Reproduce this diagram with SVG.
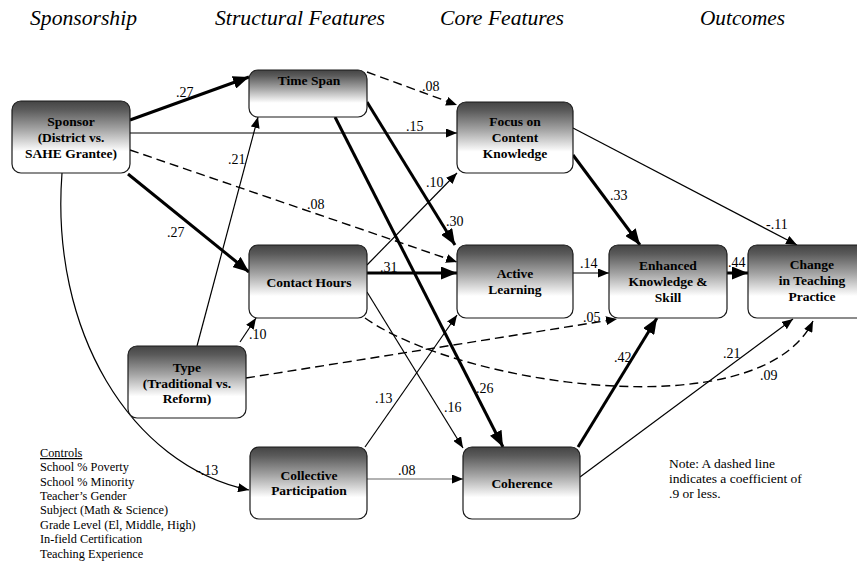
<svg xmlns="http://www.w3.org/2000/svg" width="857" height="564" viewBox="0 0 857 564">
<style>
.hdr{font-family:"Liberation Serif","Times New Roman",serif;font-style:italic;font-size:20.5px;fill:#000}
.box{fill:url(#g);stroke:#1a1a1a;stroke-width:1.2}
.nt{font-family:"Liberation Serif","Times New Roman",serif;font-weight:bold;font-size:13.5px;fill:#000;text-anchor:middle}
.lab{font-family:"Liberation Serif","Times New Roman",serif;font-size:14px;fill:#000}
.thin{fill:none;stroke:#000;stroke-width:1.2;marker-end:url(#aThin)}
.thick{fill:none;stroke:#000;stroke-width:3;marker-end:url(#aThick)}
.dash{fill:none;stroke:#000;stroke-width:1.4;stroke-dasharray:9 5;marker-end:url(#aThin)}
.ctl{font-family:"Liberation Serif","Times New Roman",serif;font-size:12.3px;fill:#000}
.note{font-family:"Liberation Serif","Times New Roman",serif;font-size:13.5px;fill:#000}
</style>
<defs>
<linearGradient id="g" x1="0" y1="0" x2="0" y2="1">
<stop offset="0" stop-color="#444444"/>
<stop offset="0.12" stop-color="#5a5a5a"/>
<stop offset="0.4" stop-color="#a6a6a6"/>
<stop offset="0.7" stop-color="#ffffff"/>
<stop offset="1" stop-color="#ffffff"/>
</linearGradient>
<marker id="aThin" markerUnits="userSpaceOnUse" markerWidth="11" markerHeight="9" refX="11" refY="4.5" orient="auto">
<path d="M0,0 L11,4.5 L0,9 z" fill="#000"/>
</marker>
<marker id="aThick" markerUnits="userSpaceOnUse" markerWidth="16" markerHeight="13" refX="16" refY="6.5" orient="auto">
<path d="M0,0 L16,6.5 L0,13 z" fill="#000"/>
</marker>
</defs>
<rect width="857" height="564" fill="#fff"/>

<g id="headers">
<text class="hdr" x="30" y="25" textLength="107" lengthAdjust="spacingAndGlyphs">Sponsorship</text>
<text class="hdr" x="215" y="25" textLength="170" lengthAdjust="spacingAndGlyphs">Structural Features</text>
<text class="hdr" x="440" y="25" textLength="124" lengthAdjust="spacingAndGlyphs">Core Features</text>
<text class="hdr" x="700" y="25" textLength="85" lengthAdjust="spacingAndGlyphs">Outcomes</text>
</g>

<g id="connectors">
<line class="thick" x1="130" y1="120" x2="249" y2="77"/>
<line class="thin" x1="130" y1="133" x2="457" y2="133"/>
<line class="dash" x1="130" y1="150" x2="457" y2="262"/>
<line class="thick" x1="128" y1="174" x2="249" y2="272"/>
<path class="thin" d="M62,173 C50,330 130,465 249,490"/>
<line class="thin" x1="197" y1="346" x2="258" y2="117"/>
<line class="thin" x1="240" y1="342" x2="256" y2="318"/>
<line class="dash" x1="246" y1="378" x2="617" y2="319"/>
<line class="thick" x1="367" y1="273" x2="457" y2="273"/>
<line class="thin" x1="367" y1="265" x2="457" y2="173"/>
<line class="thin" x1="367" y1="292" x2="463" y2="448"/>
<path class="dash" d="M365,318 C460,385 760,430 813,321"/>
<line class="dash" x1="367" y1="72" x2="457" y2="105"/>
<line class="thick" x1="367" y1="102" x2="455" y2="245"/>
<line class="thick" x1="335" y1="117" x2="503" y2="447"/>
<line class="thin" x1="365" y1="447" x2="457" y2="315"/>
<line class="thin" x1="367" y1="479" x2="463" y2="479" style="stroke:#666"/>
<line class="thick" x1="578" y1="447" x2="657" y2="318"/>
<line class="thin" x1="580" y1="477" x2="793" y2="319"/>
<line class="thin" x1="573" y1="273" x2="609" y2="273"/>
<line class="thick" x1="573" y1="155" x2="640" y2="245"/>
<line class="thin" x1="573" y1="128" x2="797" y2="245"/>
<line class="thick" x1="727" y1="273" x2="748" y2="273"/>
</g>

<g id="node-sponsor">
<rect class="box" x="12" y="101" width="118" height="72" rx="9"/>
<text class="nt" x="71" y="126">Sponsor</text>
<text class="nt" x="71" y="142">(District vs.</text>
<text class="nt" x="71" y="158">SAHE Grantee)</text>
</g>
<g id="node-timespan">
<rect class="box" x="249" y="70" width="118" height="47" rx="9"/>
<text class="nt" x="309" y="85">Time Span</text>
</g>
<g id="node-focus">
<rect class="box" x="457" y="102" width="116" height="71" rx="9"/>
<text class="nt" x="515" y="126">Focus on</text>
<text class="nt" x="515" y="142">Content</text>
<text class="nt" x="515" y="158">Knowledge</text>
</g>
<g id="node-contact">
<rect class="box" x="249" y="245" width="118" height="73" rx="9"/>
<text class="nt" x="309" y="287">Contact Hours</text>
</g>
<g id="node-type">
<rect class="box" x="128" y="346" width="118" height="72" rx="9"/>
<text class="nt" x="187" y="372">Type</text>
<text class="nt" x="187" y="388">(Traditional vs.</text>
<text class="nt" x="187" y="403">Reform)</text>
</g>
<g id="node-active">
<rect class="box" x="457" y="245" width="116" height="73" rx="9"/>
<text class="nt" x="515" y="278">Active</text>
<text class="nt" x="515" y="294">Learning</text>
</g>
<g id="node-enhanced">
<rect class="box" x="609" y="245" width="118" height="73" rx="9"/>
<text class="nt" x="668" y="270">Enhanced</text>
<text class="nt" x="668" y="286">Knowledge &amp;</text>
<text class="nt" x="668" y="302">Skill</text>
</g>
<g id="node-change">
<rect class="box" x="748" y="245" width="130" height="73" rx="9"/>
<text class="nt" x="812" y="269">Change</text>
<text class="nt" x="812" y="285">in Teaching</text>
<text class="nt" x="812" y="301">Practice</text>
</g>
<g id="node-collective">
<rect class="box" x="250" y="447" width="117" height="72" rx="9"/>
<text class="nt" x="309" y="480">Collective</text>
<text class="nt" x="309" y="495">Participation</text>
</g>
<g id="node-coherence">
<rect class="box" x="463" y="447" width="117" height="72" rx="9"/>
<text class="nt" x="522" y="488">Coherence</text>
</g>

<g id="labels">
<text class="lab" x="176" y="97">.27</text>
<text class="lab" x="406" y="131">.15</text>
<text class="lab" x="307" y="209">.08</text>
<text class="lab" x="167" y="237">.27</text>
<text class="lab" x="196" y="475">-.13</text>
<text class="lab" x="228" y="164">.21</text>
<text class="lab" x="249" y="339">.10</text>
<text class="lab" x="583" y="322">.05</text>
<text class="lab" x="380" y="272">.31</text>
<text class="lab" x="426" y="187">.10</text>
<text class="lab" x="444" y="412">.16</text>
<text class="lab" x="760" y="380">.09</text>
<text class="lab" x="422" y="91">.08</text>
<text class="lab" x="446" y="226">.30</text>
<text class="lab" x="476" y="393">.26</text>
<text class="lab" x="375" y="403">.13</text>
<text class="lab" x="398" y="475">.08</text>
<text class="lab" x="614" y="362">.42</text>
<text class="lab" x="723" y="358">.21</text>
<text class="lab" x="580" y="268">.14</text>
<text class="lab" x="610" y="200">.33</text>
<text class="lab" x="766" y="229">-.11</text>
<text class="lab" x="728" y="267">.44</text>
</g>

<g id="controls">
<text class="ctl" x="40" y="457" text-decoration="underline">Controls</text>
<text class="ctl" x="40" y="471">School % Poverty</text>
<text class="ctl" x="40" y="486">School % Minority</text>
<text class="ctl" x="40" y="500">Teacher’s Gender</text>
<text class="ctl" x="40" y="514">Subject (Math &amp; Science)</text>
<text class="ctl" x="40" y="529">Grade Level (El, Middle, High)</text>
<text class="ctl" x="40" y="543">In-field Certification</text>
<text class="ctl" x="40" y="558">Teaching Experience</text>
</g>

<g id="note">
<text class="note" x="669" y="468">Note: A dashed line</text>
<text class="note" x="669" y="483">indicates a coefficient of</text>
<text class="note" x="669" y="498">.9 or less.</text>
</g>
</svg>
